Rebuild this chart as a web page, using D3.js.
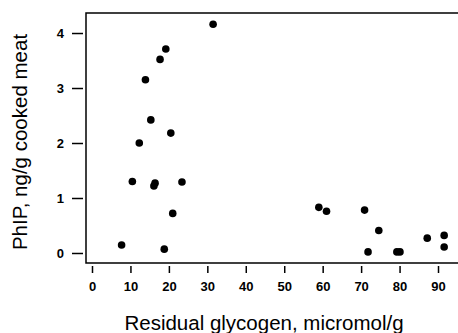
<!DOCTYPE html>
<html>
<head>
  <meta charset="UTF-8">
  <title>PhIP vs residual glycogen</title>
  <script src="https://d3js.org/d3.v7.min.js"></script>
  <style>
    body { margin: 0; background: #fff; }
    svg { display: block; }
    .tick text { font-family: "Liberation Sans", Arial, sans-serif; font-size: 13px; font-weight: bold; fill: #000; }
    .tick line { stroke: #000; stroke-width: 1.5; }
    .title { font-family: "Liberation Sans", Arial, sans-serif; font-size: 20.5px; fill: #000; }
  </style>
</head>
<body>
  <svg width="458" height="333"></svg>
  <script>
    // glycogen (micromol/g) and PhIP (ng/g cooked meat)
    const glycogen = [31.5, 19.2, 17.7, 13.9, 15.3, 20.5, 12.3, 10.5, 16.4, 16.1, 23.4, 21.0, 7.7, 18.8,
                      59.0, 61.0, 70.9, 74.6, 71.8, 79.3, 80.1, 87.2, 91.6, 91.6];
    const phip = [4.16, 3.71, 3.52, 3.15, 2.42, 2.18, 2.0, 1.30, 1.27, 1.22, 1.29, 0.72, 0.145, 0.07,
                  0.83, 0.76, 0.78, 0.41, 0.02, 0.02, 0.02, 0.27, 0.32, 0.11];
    const xTicks = [0, 10, 20, 30, 40, 50, 60, 70, 80, 90];
    const yTicks = [0, 1, 2, 3, 4];

    const svg = d3.select("svg");
    const pl = 86, pt = 13, pr = 458, pb = 263;

    const x = d3.scaleLinear().domain([-1.56, 95.2]).range([pl, pr]);
    const y = d3.scaleLinear().domain([-0.182, 4.364]).range([pb, pt]);

    // frame: left, top, bottom lines
    svg.append("path")
      .attr("d", `M${pr},${pt}H${pl}V${pb}H${pr}`)
      .attr("fill", "none")
      .attr("stroke", "#000")
      .attr("stroke-width", 1.5);

    // offset axes
    const xa = svg.append("g")
      .attr("transform", `translate(0,${pb + 3})`)
      .call(d3.axisBottom(x).tickValues(xTicks).tickSize(7).tickPadding(9).tickSizeOuter(0));
    xa.select(".domain").remove();

    const ya = svg.append("g")
      .attr("transform", `translate(${pl - 3},0)`)
      .call(d3.axisLeft(y).tickValues(yTicks).tickFormat(d3.format("d"))
        .tickSize(11).tickPadding(8).tickSizeOuter(0));
    ya.select(".domain").remove();

    // points
    svg.selectAll("circle")
      .data(glycogen.map((g, i) => [g, phip[i]]))
      .enter()
      .append("circle")
      .attr("cx", d => x(d[0]))
      .attr("cy", d => y(d[1]))
      .attr("r", 3.8)
      .attr("fill", "#000");

    svg.append("text")
      .attr("class", "title")
      .attr("x", 264)
      .attr("y", 330)
      .attr("text-anchor", "middle")
      .text("Residual glycogen, micromol/g");

    svg.append("text")
      .attr("class", "title")
      .attr("transform", "translate(27,142) rotate(-90)")
      .attr("text-anchor", "middle")
      .text("PhIP, ng/g cooked meat");
  </script>
</body>
</html>
